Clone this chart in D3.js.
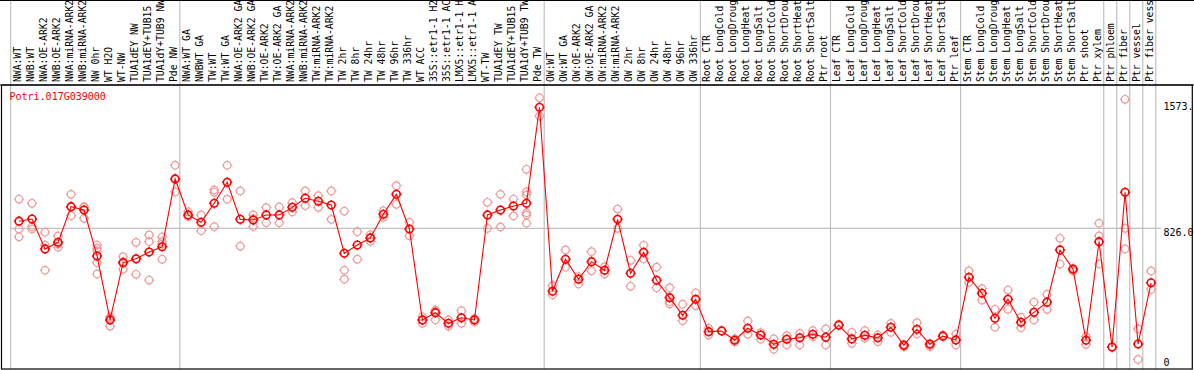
<!DOCTYPE html>
<html><head><meta charset="utf-8">
<script src="https://cdn.jsdelivr.net/npm/d3@7"></script>
<style>
html,body{margin:0;padding:0;background:#fff;}
svg{display:block;}
text{font-family:"DejaVu Sans Mono",monospace;font-size:10px;}
</style></head>
<body>
<svg id="chart" width="1194" height="370"></svg>
<script>
const geneTitle = "Potri.017G039000";

const categories = [
  "NWA:WT","NWB:WT","NWA:OE-ARK2","NWB:OE-ARK2","NWA:miRNA-ARK2","NWB:miRNA-ARK2","NW 0hr","WT H2O","WT-NW","TUA1dEY NW","TUA1dEY+TUB15 NW","TUA1dY+TUB9 NW","Pde NW",
  "NWA:WT GA","NWBWT GA","TW:WT","TW:WT GA","NWA:OE-ARK2 GA","NWB:OE-ARK2 GA","TW:OE-ARK2","TW:OE-ARK2 GA","NWA:miRNA-ARK2 GA","NWB:miRNA-ARK2 GA","TW:miRNA-ARK2","TW:miRNA-ARK2","TW 2hr","TW 8hr","TW 24hr","TW 48hr","TW 96hr","TW 336hr","WT ACC","35S::etr1-1 H2O","35S::etr1-1 ACC","LMX5::etr1-1 H2O","LMX5::etr1-1 ACC","WT-TW","TUA1dEY TW","TUA1dEY+TUB15 TW","TUA1dY+TUB9 TW","Pde TW",
  "OW:WT","OW:WT GA","OW:OE-ARK2","OW:OE-ARK2 GA","OW:miRNA-ARK2","OW:miRNA-ARK2","OW 2hr","OW 8hr","OW 24hr","OW 48hr","OW 96hr","OW 336hr",
  "Root CTR","Root LongCold","Root LongDrought","Root LongHeat","Root LongSalt","Root ShortCold","Root ShortDrought","Root ShortHeat","Root ShortSalt","Ptr root",
  "Leaf CTR","Leaf LongCold","Leaf LongDrought","Leaf LongHeat","Leaf LongSalt","Leaf ShortCold","Leaf ShortDrought","Leaf ShortHeat","Leaf ShortSalt","Ptr leaf",
  "Stem CTR","Stem LongCold","Stem LongDrought","Stem LongHeat","Stem LongSalt","Stem ShortCold","Stem ShortDrought","Stem ShortHeat","Stem ShortSalt","Ptr shoot","Ptr xylem",
  "Ptr phloem","Ptr fiber","Ptr vessel","Ptr fiber vessel"
];

const means = [
  868,881,704,743,954,934,662,284,623,646,686,717,1118,
  905,862,974,1098,879,875,905,905,950,1004,986,964,678,727,769,909,1027,822,284,327,264,297,284,905,934,958,974,1542,
  454,643,525,629,578,879,560,684,519,416,312,406,
  215,219,164,235,195,140,170,179,199,182,
  253,172,193,179,241,134,229,140,188,166,
  536,442,294,406,270,329,389,698,584,164,747,
  124,1039,142,504
];

const replicates = [
  [999,822,776],[974,836,822],[803,727,578],[781,733,714],[1027,952,901],[954,949,885],[727,708,692,623,556],[303,294,248],[658,627,584],[743,645,554],[787,747,520],[776,747,733,643],[1199,1118,1041],
  [924,895],[905,812],[1053,1039,836],[1199,998],[1047,721],[905,885,836],[948,859],[952,859],[978,923],[1047,960],[1019,950],[1047,879],[928,578,525],[806,643],[788,769,749],[930,891],[1078,968],[862,782],[303,284,264],[343,333,284],[284,248],[339,264],[292,272],[980,826],[1027,834],[999,899],[1175,1041,1023,918,905,856],[1598,1490],
  [487,432],[698,596],[540,497],[688,575],[599,556],[940,826],[637,483],[727,645],[596,475],[475,392,379],[377,280],[445,368],
  [235,195],[219],[173,154],[278,199],[209,170],[173,111],[191,136],[205,136],[221,185],[231,136],
  [258],[211,146],[221,176],[195,156],[264,211],[140,126],[268,201],[146,126],[195],[201,136],
  [574,507],[469,402],[347,241],[461,347],[300,238],[390,284],[436,347],[767,615],[590,574],[185,140],[856,781,615],
  [124],[1589,826,704],[231,51],[574,465]
];

// index of first column of every block; last entry closes the plot
const groupStarts = [0,13,41,53,63,73,84,85,86,87,88];

const tickValues = [1573, 826, 0];
const tickLabels = ["1573.", "826.0", "0"];
const gridValues = [826];

const W = 1194, H = 370;
const plotLeft = 10.7, plotRight = 1155.8, frameTop = 85, frameBottom = 369;
const labelRoom = 14; // characters that fit above the plot

const svg = d3.select("#chart");

const x = d3.scaleBand().domain(d3.range(categories.length)).range([plotLeft, plotRight]).padding(0);
const y = d3.scaleLinear().domain([0, 1573]).range([368, 102]);
const px = i => x(i) + 8.3;

// labels (the header only has room for the first characters)
svg.append("g").selectAll("text").data(categories).join("text")
  .attr("transform", (d, i) => `translate(${x(i) + 10},82) rotate(-90)`)
  .attr("text-anchor", "start")
  .style("font-size", "9.75px")
  .attr("fill", "#000")
  .text(d => d.slice(0, labelRoom).trimEnd());

// vertical grid lines
svg.append("g").selectAll("line").data(groupStarts).join("line")
  .attr("x1", d => (d < categories.length ? x(d) : plotRight))
  .attr("x2", d => (d < categories.length ? x(d) : plotRight))
  .attr("y1", 0).attr("y2", frameBottom)
  .attr("stroke", "#c0c0c0").attr("stroke-width", 1.2);

// horizontal grid
svg.append("g").selectAll("line").data(gridValues).join("line")
  .attr("x1", plotLeft).attr("x2", 1161)
  .attr("y1", d => y(d)).attr("y2", d => y(d))
  .attr("stroke", "#c0c0c0").attr("stroke-width", 1.2);

// frame
svg.append("line").attr("x1", 0).attr("x2", W).attr("y1", 0.5).attr("y2", 0.5).attr("stroke", "#000");
svg.append("line").attr("x1", 0).attr("x2", W).attr("y1", frameTop).attr("y2", frameTop).attr("stroke", "#000").attr("stroke-width", 1.2);
svg.append("rect").attr("x", 1.5).attr("y", frameTop).attr("width", 1192.3 - 1.5).attr("height", frameBottom - frameTop)
  .attr("fill", "none").attr("stroke", "#000").attr("stroke-width", 1.2);

// axis labels
svg.append("g").selectAll("text").data(tickValues).join("text")
  .attr("x", 1163.5)
  .attr("y", d => Math.min(y(d), 358.5))
  .attr("dy", "0.75em")
  .attr("fill", "#000")
  .text((d, i) => tickLabels[i]);

// title
svg.append("text").attr("x", 9.5).attr("y", 100.3).attr("fill", "#ff0000").text(geneTitle);

// marker shape
function markerPath(r, t) {
  const p = d3.path();
  p.moveTo(r, 0); p.arc(0, 0, r, 0, 2 * Math.PI);
  p.moveTo(0, -r); p.lineTo(0, -r - t);
  p.moveTo(0, r); p.lineTo(0, r + t);
  p.moveTo(-r, 0); p.lineTo(-r - t, 0);
  p.moveTo(r, 0); p.lineTo(r + t, 0);
  return p.toString();
}
const mk = markerPath(3.8, 1.3);

// replicates
const repPts = [];
replicates.forEach((arr, i) => arr.forEach(v => repPts.push([i, v])));
svg.append("g").selectAll("path").data(repPts).join("path")
  .attr("transform", d => `translate(${px(d[0])},${y(d[1])})`)
  .attr("d", mk).attr("fill", "none").attr("stroke", "#f09a9a").attr("stroke-width", 1.2);

// mean line
svg.append("path").datum(means)
  .attr("d", d3.line().x((d, i) => px(i)).y(d => y(d)))
  .attr("fill", "none").attr("stroke", "#ff0000").attr("stroke-width", 1.1);

// means
svg.append("g").selectAll("path").data(means).join("path")
  .attr("transform", (d, i) => `translate(${px(i)},${y(d)})`)
  .attr("d", mk).attr("fill", "none").attr("stroke", "#ff0000").attr("stroke-width", 1.6);
</script>
</body></html>
